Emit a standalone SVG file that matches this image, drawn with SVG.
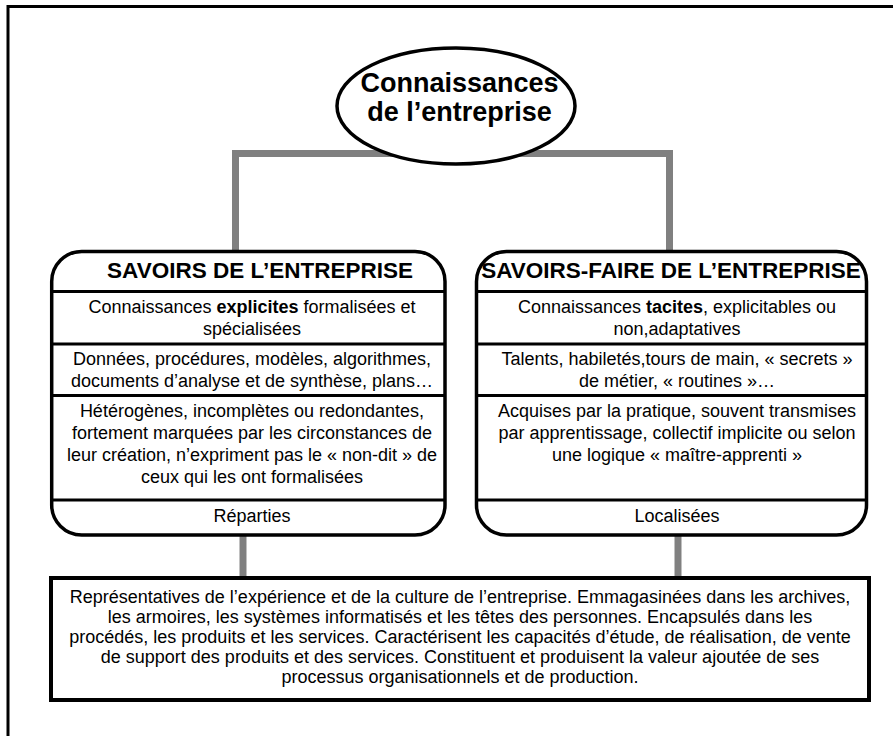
<svg xmlns="http://www.w3.org/2000/svg" width="893" height="736" viewBox="0 0 893 736">
<style>
.t{font-family:"Liberation Sans",Arial,sans-serif;fill:#000;text-anchor:middle}
.b{font-weight:bold}
.body{font-size:18px}
.hdr{font-size:22.5px;font-weight:bold}
.box{fill:#fff;stroke:#000;stroke-width:3.5}
.sep{stroke:#000;stroke-width:3;fill:none}
.conn{stroke:#808080;stroke-width:7;fill:none}
</style>
<rect x="0" y="0" width="893" height="736" fill="#fff"/>
<path d="M8,740 V6.5 H900" fill="none" stroke="#000" stroke-width="3"/>
<g id="connectors">
<path class="conn" d="M235.5,250 V153.5 H669.5 V250"/>
<path class="conn" d="M243,536 V577"/>
<path class="conn" d="M678,536 V577"/>
</g>
<g id="root">
<ellipse cx="456" cy="106" rx="119" ry="58" fill="#fff" stroke="#000" stroke-width="3.5"/>
<text class="t b" font-size="27" x="459.5" y="92">Connaissances</text>
<text class="t b" font-size="27" x="459.5" y="121">de l’entreprise</text>
</g>
<g id="savoirs">
<path class="box" d="M51.7,281.5 A30,30 0 0 1 81.7,251.5 H415 A30,30 0 0 1 445,281.5 V505 A30,30 0 0 1 415,535 H81.7 A30,30 0 0 1 51.7,505 Z"/>
<path class="sep" d="M51.7,291.5 H445 M51.7,344 H445 M51.7,395.5 H445 M51.7,500 H445"/>
<text class="t hdr" x="260" y="278">SAVOIRS DE L’ENTREPRISE</text>
<text class="t body" x="252" y="313">Connaissances <tspan class="b">explicites</tspan> formalisées et</text>
<text class="t body" x="252" y="335">spécialisées</text>
<text class="t body" x="252" y="365">Données, procédures, modèles, algorithmes,</text>
<text class="t body" x="252" y="387">documents d’analyse et de synthèse, plans…</text>
<text class="t body" x="252" y="417">Hétérogènes, incomplètes ou redondantes,</text>
<text class="t body" x="252" y="439">fortement marquées par les circonstances de</text>
<text class="t body" x="252" y="461">leur création, n’expriment pas le « non-dit » de</text>
<text class="t body" x="252" y="483">ceux qui les ont formalisées</text>
<text class="t body" x="252" y="522">Réparties</text>
</g>
<g id="savoirs-faire">
<path class="box" d="M476.5,281.5 A30,30 0 0 1 506.5,251.5 H836.5 A30,30 0 0 1 866.5,281.5 V505 A30,30 0 0 1 836.5,535 H506.5 A30,30 0 0 1 476.5,505 Z"/>
<path class="sep" d="M476.5,291.5 H866.5 M476.5,344 H866.5 M476.5,395.5 H866.5 M476.5,500 H866.5"/>
<text class="t hdr" x="671" y="278">SAVOIRS-FAIRE DE L’ENTREPRISE</text>
<text class="t body" x="677" y="313">Connaissances <tspan class="b">tacites</tspan>, explicitables ou</text>
<text class="t body" x="677" y="335">non,adaptatives</text>
<text class="t body" x="677" y="365">Talents, habiletés,tours de main, « secrets »</text>
<text class="t body" x="677" y="387">de métier, « routines »…</text>
<text class="t body" x="677" y="417">Acquises par la pratique, souvent transmises</text>
<text class="t body" x="677" y="439">par apprentissage, collectif implicite ou selon</text>
<text class="t body" x="677" y="461">une logique « maître-apprenti »</text>
<text class="t body" x="677" y="522">Localisées</text>
</g>
<g id="synthese">
<rect x="51" y="578" width="818" height="122" fill="#fff" stroke="#000" stroke-width="4"/>
<text class="t body" x="460" y="603">Représentatives de l’expérience et de la culture de l’entreprise. Emmagasinées dans les archives,</text>
<text class="t body" x="460" y="623">les armoires, les systèmes informatisés et les têtes des personnes. Encapsulés dans les</text>
<text class="t body" x="460" y="643">procédés, les produits et les services. Caractérisent les capacités d’étude, de réalisation, de vente</text>
<text class="t body" x="460" y="663">de support des produits et des services. Constituent et produisent la valeur ajoutée de ses</text>
<text class="t body" x="460" y="683">processus organisationnels et de production.</text>
</g>
</svg>
